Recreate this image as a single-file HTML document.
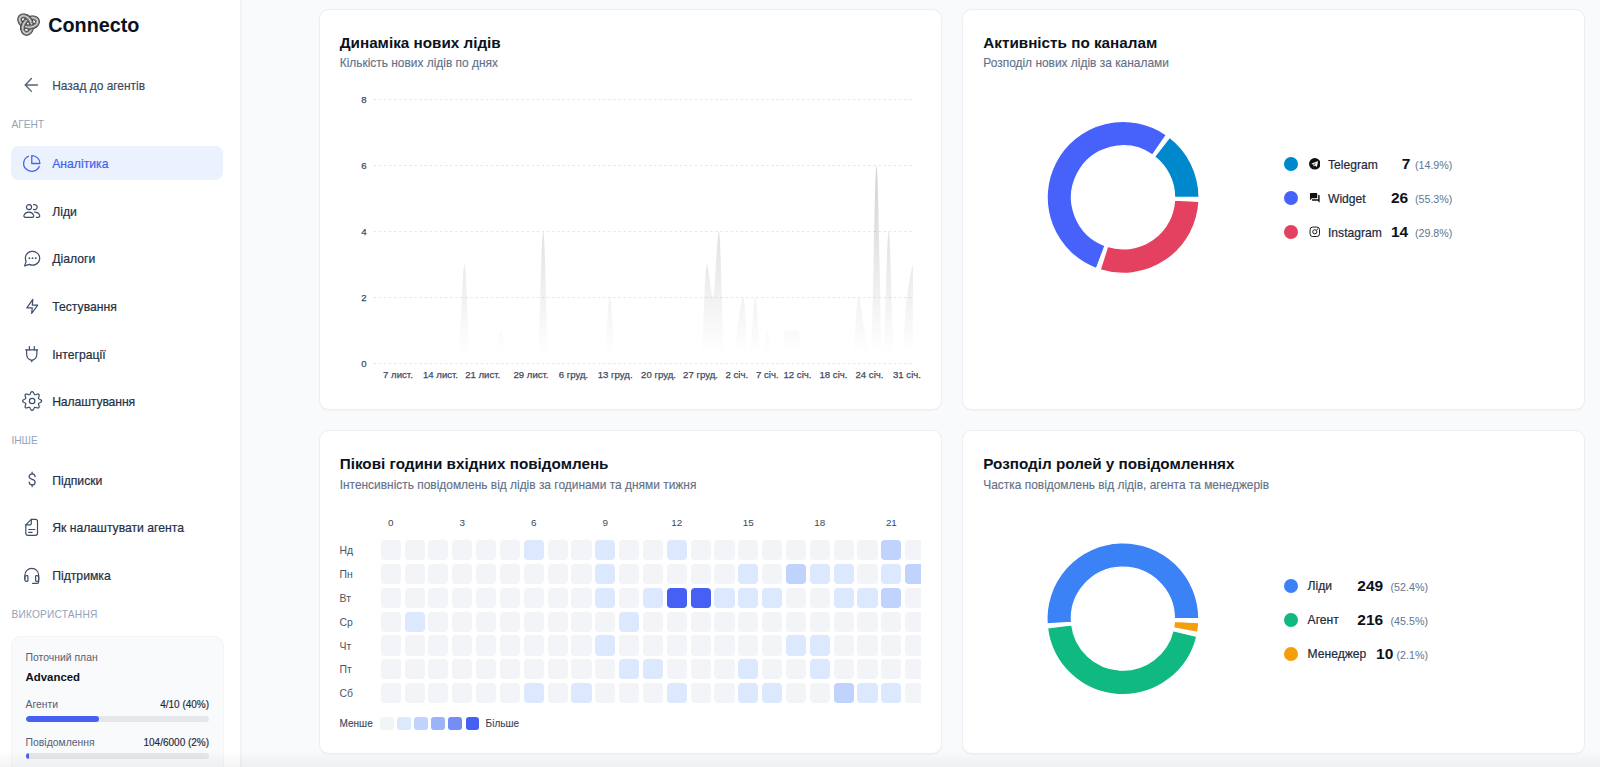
<!DOCTYPE html>
<html lang="uk">
<head>
<meta charset="utf-8">
<title>Connecto — Аналітика</title>
<style>
*{box-sizing:border-box;margin:0;padding:0}
html,body{width:1600px;height:767px;overflow:hidden}
body{position:relative;background:#f8fafc;font-family:"Liberation Sans",Arial,sans-serif;color:#1e293b;-webkit-font-smoothing:antialiased}
.abs{position:absolute;white-space:nowrap}
/* sidebar */
#sidebar{position:absolute;left:0;top:0;width:241px;height:767px;background:#fff;border-right:1px solid #f0f2f5;box-shadow:1px 0 0 #f3f5f8}
#brand{left:48.2px;top:13.5px;font-size:19.8px;font-weight:700;color:#0b1220;line-height:23px}
.sec{left:11.4px;font-size:10.2px;color:#94a3b8;line-height:12px;letter-spacing:0}
.nav{left:11px;width:212.3px;height:34.2px;border-radius:8px;font-size:12.2px;color:#243044;line-height:34.2px;padding-left:41.2px;-webkit-text-stroke:.2px currentColor}
.ic{fill:none;stroke-linecap:round;stroke-linejoin:round;overflow:visible}
.nav.active{background:#ebf2fe;border-radius:7.5px;color:#4461f2;line-height:36px}
#usage{left:11.1px;top:636.4px;width:212.5px;height:160px;background:#f8fafc;border:1px solid #f1f4f8;border-radius:10px}
.u-l{font-size:10.4px;color:#566075;line-height:12px}
.u-r{font-size:10px;color:#1e293b;line-height:12px;text-align:right;-webkit-text-stroke:.15px #1e293b}
.track{left:25.6px;width:183.5px;height:6px;border-radius:3px;background:#e5e7eb;overflow:hidden}
.track b{display:block;height:100%;background:#4461f2;border-radius:3px}
/* cards */
.card{position:absolute;background:#fff;border:1px solid #eceef3;border-radius:9.5px;box-shadow:0 1px 2px rgba(16,24,40,.03)}
.title{font-size:15.25px;font-weight:700;color:#0b1220;line-height:18px}
.sub{font-size:11.93px;color:#626f86;line-height:14px;-webkit-text-stroke:.12px #626f86}
svg.layer{position:absolute;left:0;top:0;width:1600px;height:767px;overflow:visible}
.ax text{font-size:9.6px;fill:#3f4b60;stroke:#3f4b60;stroke-width:.25px;font-family:"Liberation Sans",Arial,sans-serif}
.grid line{stroke:#e4e7eb;stroke-width:1;stroke-dasharray:2.6 2.5}
/* legend */
.dot{width:13.9px;height:13.9px;margin:-.15px 0 0 -.15px;border-radius:50%}
.lname{font-size:12.1px;color:#1e293b;line-height:14px;-webkit-text-stroke:.2px #1e293b;margin-top:.8px}
.lval{font-size:15.5px;font-weight:700;color:#0b1220;line-height:18px;text-align:right;margin-top:.6px}
.lpct{font-size:10.7px;color:#64748b;line-height:14px;text-align:right;margin-top:.3px}
/* heatmap */
#heat{left:380.7px;top:540.1px;width:540.3px;height:170px;overflow:hidden}
#heat i{position:absolute;width:20.1px;height:20.1px;border-radius:4px}
.hh{position:absolute;top:516.6px;width:30px;text-align:center;font-size:9.9px;color:#3b475c;line-height:12px}
.dd{position:absolute;margin-top:1.1px;left:339.6px;font-size:10.4px;color:#475569;line-height:20.1px}
.lg{position:absolute;top:717px;width:13.4px;height:13.4px;border-radius:3px}
.small{font-size:10px;color:#3b475c;line-height:12px;margin-top:.4px;-webkit-text-stroke:.12px #3b475c}
#fade{position:absolute;left:0;top:750px;width:1600px;height:17px;background:linear-gradient(to bottom,rgba(0,0,0,0),rgba(0,0,0,.045));pointer-events:none}
</style>
</head>
<body>

<aside id="sidebar">
  <svg class="abs" style="left:16.3px;top:11.6px;width:25.2px;height:25.2px" viewBox="0 0 24 24" fill="none" stroke-linejoin="round"><path d="M10.72 14.14L11.73 14.31L12.75 14.38L13.76 14.36L14.75 14.25L15.69 14.04L16.58 13.75L17.41 13.38L18.16 12.94L18.82 12.43L19.37 11.88L19.83 11.28L20.17 10.66L20.39 10.02L20.50 9.38L20.49 8.75L20.35 8.15L20.11 7.58L19.75 7.06L19.29 6.61L18.73 6.22L18.09 5.92L17.37 5.70L16.59 5.58L15.76 5.56L14.90 5.64L14.01 5.83L13.12 6.12L12.23 6.51L11.37 6.99L10.54 7.57L9.76 8.23L9.03 8.96L8.38 9.75L7.81 10.60L7.32 11.48L6.93 12.39L6.63 13.32L6.44 14.23L6.35 15.13L6.36 16.00L6.46 16.82L6.67 17.59L6.96 18.28L7.32 18.89L7.77 19.40L8.27 19.81L8.82 20.11L9.41 20.30L10.02 20.37L10.65 20.32L11.28 20.15L11.89 19.86L12.47 19.45L13.02 18.94L13.51 18.32L13.94 17.62L14.31 16.83L14.59 15.97L14.78 15.05L14.89 14.09L14.90 13.10L14.82 12.09L14.64 11.08L14.37 10.09L14.00 9.13L13.56 8.21L13.03 7.34L12.44 6.55L11.79 5.83L11.09 5.21L10.36 4.68L9.60 4.25L8.84 3.93L8.08 3.73L7.33 3.63L6.62 3.65L5.96 3.77L5.35 4.00L4.81 4.33L4.35 4.74L3.99 5.24L3.72 5.81L3.55 6.44L3.50 7.11L3.56 7.82L3.73 8.55L4.02 9.29L4.41 10.02L4.92 10.72L5.52 11.40L6.22 12.03L7.00 12.60L7.85 13.10L8.76 13.53L9.72 13.88Z" stroke="#333333" stroke-width="4.5"/><path d="M10.72 14.14L11.73 14.31L12.75 14.38L13.76 14.36L14.75 14.25L15.69 14.04L16.58 13.75L17.41 13.38L18.16 12.94L18.82 12.43L19.37 11.88L19.83 11.28L20.17 10.66L20.39 10.02L20.50 9.38L20.49 8.75L20.35 8.15L20.11 7.58L19.75 7.06L19.29 6.61L18.73 6.22L18.09 5.92L17.37 5.70L16.59 5.58L15.76 5.56L14.90 5.64L14.01 5.83L13.12 6.12L12.23 6.51L11.37 6.99L10.54 7.57L9.76 8.23L9.03 8.96L8.38 9.75L7.81 10.60L7.32 11.48L6.93 12.39L6.63 13.32L6.44 14.23L6.35 15.13L6.36 16.00L6.46 16.82L6.67 17.59L6.96 18.28L7.32 18.89L7.77 19.40L8.27 19.81L8.82 20.11L9.41 20.30L10.02 20.37L10.65 20.32L11.28 20.15L11.89 19.86L12.47 19.45L13.02 18.94L13.51 18.32L13.94 17.62L14.31 16.83L14.59 15.97L14.78 15.05L14.89 14.09L14.90 13.10L14.82 12.09L14.64 11.08L14.37 10.09L14.00 9.13L13.56 8.21L13.03 7.34L12.44 6.55L11.79 5.83L11.09 5.21L10.36 4.68L9.60 4.25L8.84 3.93L8.08 3.73L7.33 3.63L6.62 3.65L5.96 3.77L5.35 4.00L4.81 4.33L4.35 4.74L3.99 5.24L3.72 5.81L3.55 6.44L3.50 7.11L3.56 7.82L3.73 8.55L4.02 9.29L4.41 10.02L4.92 10.72L5.52 11.40L6.22 12.03L7.00 12.60L7.85 13.10L8.76 13.53L9.72 13.88Z" stroke="#808080" stroke-width="3.3"/><path d="M10.72 14.14L11.73 14.31L12.75 14.38L13.76 14.36L14.75 14.25L15.69 14.04L16.58 13.75L17.41 13.38L18.16 12.94L18.82 12.43L19.37 11.88L19.83 11.28L20.17 10.66L20.39 10.02L20.50 9.38L20.49 8.75L20.35 8.15L20.11 7.58L19.75 7.06L19.29 6.61L18.73 6.22L18.09 5.92L17.37 5.70L16.59 5.58L15.76 5.56L14.90 5.64L14.01 5.83L13.12 6.12L12.23 6.51L11.37 6.99L10.54 7.57L9.76 8.23L9.03 8.96L8.38 9.75L7.81 10.60L7.32 11.48L6.93 12.39L6.63 13.32L6.44 14.23L6.35 15.13L6.36 16.00L6.46 16.82L6.67 17.59L6.96 18.28L7.32 18.89L7.77 19.40L8.27 19.81L8.82 20.11L9.41 20.30L10.02 20.37L10.65 20.32L11.28 20.15L11.89 19.86L12.47 19.45L13.02 18.94L13.51 18.32L13.94 17.62L14.31 16.83L14.59 15.97L14.78 15.05L14.89 14.09L14.90 13.10L14.82 12.09L14.64 11.08L14.37 10.09L14.00 9.13L13.56 8.21L13.03 7.34L12.44 6.55L11.79 5.83L11.09 5.21L10.36 4.68L9.60 4.25L8.84 3.93L8.08 3.73L7.33 3.63L6.62 3.65L5.96 3.77L5.35 4.00L4.81 4.33L4.35 4.74L3.99 5.24L3.72 5.81L3.55 6.44L3.50 7.11L3.56 7.82L3.73 8.55L4.02 9.29L4.41 10.02L4.92 10.72L5.52 11.40L6.22 12.03L7.00 12.60L7.85 13.10L8.76 13.53L9.72 13.88Z" stroke="#d6d6d6" stroke-width="1.2"/><path d="M10.72 14.14L11.73 14.31L12.75 14.38L13.76 14.36L14.75 14.25L15.69 14.04L16.58 13.75L17.41 13.38L18.16 12.94L18.82 12.43" stroke="#333333" stroke-width="4.5" stroke-linecap="butt"/><path d="M10.72 14.14L11.73 14.31L12.75 14.38L13.76 14.36L14.75 14.25L15.69 14.04L16.58 13.75L17.41 13.38L18.16 12.94L18.82 12.43" stroke="#808080" stroke-width="3.3" stroke-linecap="butt"/><path d="M10.72 14.14L11.73 14.31L12.75 14.38L13.76 14.36L14.75 14.25L15.69 14.04L16.58 13.75L17.41 13.38L18.16 12.94L18.82 12.43" stroke="#d6d6d6" stroke-width="1.2" stroke-linecap="butt"/><path d="M9.03 8.96L8.38 9.75L7.81 10.60L7.32 11.48L6.93 12.39L6.63 13.32L6.44 14.23L6.35 15.13L6.36 16.00L6.46 16.82" stroke="#333333" stroke-width="4.5" stroke-linecap="butt"/><path d="M9.03 8.96L8.38 9.75L7.81 10.60L7.32 11.48L6.93 12.39L6.63 13.32L6.44 14.23L6.35 15.13L6.36 16.00L6.46 16.82" stroke="#808080" stroke-width="3.3" stroke-linecap="butt"/><path d="M9.03 8.96L8.38 9.75L7.81 10.60L7.32 11.48L6.93 12.39L6.63 13.32L6.44 14.23L6.35 15.13L6.36 16.00L6.46 16.82" stroke="#d6d6d6" stroke-width="1.2" stroke-linecap="butt"/><path d="M14.37 10.09L14.00 9.13L13.56 8.21L13.03 7.34L12.44 6.55L11.79 5.83L11.09 5.21L10.36 4.68L9.60 4.25L8.84 3.93" stroke="#333333" stroke-width="4.5" stroke-linecap="butt"/><path d="M14.37 10.09L14.00 9.13L13.56 8.21L13.03 7.34L12.44 6.55L11.79 5.83L11.09 5.21L10.36 4.68L9.60 4.25L8.84 3.93" stroke="#808080" stroke-width="3.3" stroke-linecap="butt"/><path d="M14.37 10.09L14.00 9.13L13.56 8.21L13.03 7.34L12.44 6.55L11.79 5.83L11.09 5.21L10.36 4.68L9.60 4.25L8.84 3.93" stroke="#d6d6d6" stroke-width="1.2" stroke-linecap="butt"/></svg>
  <div id="brand" class="abs">Connecto</div>

  <svg class="abs ic" style="left:21.18px;top:74.03px;width:20.74px;height:21.94px;stroke:#56627a;stroke-width:1.40px" viewBox="0 0 24 24" preserveAspectRatio="none"><path vector-effect="non-scaling-stroke" d="m12 19-7-7 7-7"/><path vector-effect="non-scaling-stroke" d="M19 12H5"/></svg>
  <div class="abs" style="left:52.2px;top:79px;font-size:11.95px;line-height:14px;color:#3a475b;-webkit-text-stroke:.15px #3a475b">Назад до агентів</div>

  <div class="abs sec" style="top:118.9px">АГЕНТ</div>

  <div class="abs nav active" style="top:146px;height:34.4px">Аналітика</div>
  <div class="abs nav" style="top:194.7px">Ліди</div>
  <div class="abs nav" style="top:242.3px">Діалоги</div>
  <div class="abs nav" style="top:290.0px">Тестування</div>
  <div class="abs nav" style="top:337.6px">Інтеграції</div>
  <div class="abs nav" style="top:385.3px;letter-spacing:-.12px">Налаштування</div>

  <div class="abs sec" style="top:435.1px">ІНШЕ</div>

  <div class="abs nav" style="top:463.9px">Підписки</div>
  <div class="abs nav" style="top:511.2px">Як налаштувати агента</div>
  <div class="abs nav" style="top:558.7px">Підтримка</div>

  <div class="abs sec" style="top:608.8px;letter-spacing:.2px">ВИКОРИСТАННЯ</div>

  <svg class="abs ic" style="left:21.82px;top:153.87px;width:19.56px;height:18.96px;stroke:#4461f2;stroke-width:1.30px" viewBox="0 0 24 24" preserveAspectRatio="none"><path vector-effect="non-scaling-stroke" d="M21.21 15.89A10 10 0 1 1 8 2.83"/><path vector-effect="non-scaling-stroke" d="M22 12A10 10 0 0 0 12 2v10z"/></svg><svg class="abs ic" style="left:23.01px;top:204.11px;width:24.04px;height:23.72px;stroke:#3f4d6b;stroke-width:1.20px" viewBox="0 0 24 24" preserveAspectRatio="none"><circle vector-effect="non-scaling-stroke" cx="6" cy="3.150" r="2.550"/><path vector-effect="non-scaling-stroke" d="M10.520 .84A2.550 2.550 0 1 1 10.520 5.460"/><path vector-effect="non-scaling-stroke" d="M2.600 13.450h6.400c1.400 0 2.100-1 1.600-2.200C9.800 9.400 8.100 8.150 5.800 8.150S1.800 9.400 1 11.250c-.5 1.200.2 2.200 1.600 2.200z"/><path vector-effect="non-scaling-stroke" d="M11.600 8.200c2.400 0 4.300 1.300 5 3.100.5 1.200-.2 2.150-1.500 2.150h-1.800"/></svg><svg class="abs ic" style="left:22.61px;top:249.20px;width:19.07px;height:18.43px;stroke:#3f4d6b;stroke-width:1.20px" viewBox="0 0 24 24" preserveAspectRatio="none"><path vector-effect="non-scaling-stroke" d="M7.900 20A9 9 0 1 0 4 16.100L2 22Z"/><circle vector-effect="non-scaling-stroke" cx="8" cy="12" r="1.15" fill="#3f4d6b" stroke="none"/><circle vector-effect="non-scaling-stroke" cx="12" cy="12" r="1.15" fill="#3f4d6b" stroke="none"/><circle vector-effect="non-scaling-stroke" cx="16" cy="12" r="1.15" fill="#3f4d6b" stroke="none"/></svg><svg class="abs ic" style="left:24.58px;top:298.39px;width:14.53px;height:16.92px;stroke:#3f4d6b;stroke-width:1.20px" viewBox="0 0 24 24" preserveAspectRatio="none"><path vector-effect="non-scaling-stroke" d="M13 2 3 14h9l-1 8 10-12h-9z"/></svg><svg class="abs ic" style="left:25.00px;top:345.52px;width:24.00px;height:23.24px;stroke:#3f4d6b;stroke-width:1.20px" viewBox="0 0 24 24" preserveAspectRatio="none"><path vector-effect="non-scaling-stroke" d="M.6 3.900H12.600"/><path vector-effect="non-scaling-stroke" d="M4.400 .5V3.900"/><path vector-effect="non-scaling-stroke" d="M9.300 .5V3.900"/><path vector-effect="non-scaling-stroke" d="M1.650 3.900V8.500c0 3.200 2.300 5.800 5.100 6.300 2.800-.5 5.100-3.100 5.100-6.300V3.900"/><path vector-effect="non-scaling-stroke" d="M6.750 14.800V16.300"/></svg><svg class="abs ic" style="left:19.77px;top:389.30px;width:24.26px;height:24.00px;stroke:#3f4d6b;stroke-width:1.20px" viewBox="0 0 24 24" preserveAspectRatio="none"><path vector-effect="non-scaling-stroke" d="M21.40 12.00L21.33 12.37L21.12 12.72L20.80 13.04L20.40 13.33L19.94 13.58L19.49 13.80L19.06 13.99L18.70 14.18L18.44 14.38L18.28 14.60L18.23 14.87L18.28 15.20L18.40 15.58L18.56 16.02L18.73 16.50L18.88 17.00L18.96 17.49L18.96 17.94L18.86 18.34L18.65 18.65L18.34 18.86L17.94 18.96L17.49 18.96L17.00 18.88L16.50 18.73L16.02 18.56L15.58 18.40L15.20 18.28L14.87 18.23L14.60 18.28L14.38 18.44L14.18 18.70L13.99 19.06L13.80 19.49L13.58 19.94L13.33 20.40L13.04 20.80L12.72 21.12L12.37 21.33L12.00 21.40L11.63 21.33L11.28 21.12L10.96 20.80L10.67 20.40L10.42 19.94L10.20 19.49L10.01 19.06L9.82 18.70L9.62 18.44L9.40 18.28L9.13 18.23L8.80 18.28L8.42 18.40L7.98 18.56L7.50 18.73L7.00 18.88L6.51 18.96L6.06 18.96L5.66 18.86L5.35 18.65L5.14 18.34L5.04 17.94L5.04 17.49L5.12 17.00L5.27 16.50L5.44 16.02L5.60 15.58L5.72 15.20L5.77 14.87L5.72 14.60L5.56 14.38L5.30 14.18L4.94 13.99L4.51 13.80L4.06 13.58L3.60 13.33L3.20 13.04L2.88 12.72L2.67 12.37L2.60 12.00L2.67 11.63L2.88 11.28L3.20 10.96L3.60 10.67L4.06 10.42L4.51 10.20L4.94 10.01L5.30 9.82L5.56 9.62L5.72 9.40L5.77 9.13L5.72 8.80L5.60 8.42L5.44 7.98L5.27 7.50L5.12 7.00L5.04 6.51L5.04 6.06L5.14 5.66L5.35 5.35L5.66 5.14L6.06 5.04L6.51 5.04L7.00 5.12L7.50 5.27L7.98 5.44L8.42 5.60L8.80 5.72L9.13 5.77L9.40 5.72L9.62 5.56L9.82 5.30L10.01 4.94L10.20 4.51L10.42 4.06L10.67 3.60L10.96 3.20L11.28 2.88L11.63 2.67L12.00 2.60L12.37 2.67L12.72 2.88L13.04 3.20L13.33 3.60L13.58 4.06L13.80 4.51L13.99 4.94L14.18 5.30L14.38 5.56L14.60 5.72L14.87 5.77L15.20 5.72L15.58 5.60L16.02 5.44L16.50 5.27L17.00 5.12L17.49 5.04L17.94 5.04L18.34 5.14L18.65 5.35L18.86 5.66L18.96 6.06L18.96 6.51L18.88 7.00L18.73 7.50L18.56 7.98L18.40 8.42L18.28 8.80L18.23 9.13L18.28 9.40L18.44 9.62L18.70 9.82L19.06 10.01L19.49 10.20L19.94 10.42L20.40 10.67L20.80 10.96L21.12 11.28L21.33 11.63Z"/><circle vector-effect="non-scaling-stroke" cx="12" cy="12" r="2.700"/></svg><svg class="abs ic" style="left:24.70px;top:471.46px;width:14.26px;height:16.69px;stroke:#3f4d6b;stroke-width:1.20px" viewBox="0 0 24 24" preserveAspectRatio="none"><path vector-effect="non-scaling-stroke" d="M12 1.500v2.500"/><path vector-effect="non-scaling-stroke" d="M12 20v2.500"/><path vector-effect="non-scaling-stroke" d="M17 8C16.600 5.600 14.700 4 12 4 9 4 7 5.700 7 8c0 2.500 2.200 3.400 5 4s5 1.500 5 4c0 2.300-2 4-5 4-2.800 0-4.700-1.600-5.100-4"/></svg><svg class="abs ic" style="left:25.00px;top:518.00px;width:24.00px;height:24.00px;stroke:#3f4d6b;stroke-width:1.20px" viewBox="0 0 24 24" preserveAspectRatio="none"><path vector-effect="non-scaling-stroke" d="M6.300 1.400H10.500a2 2 0 0 1 2 2V15.300a2 2 0 0 1-2 2H2.800a2 2 0 0 1-2-2V6.900Z"/><path vector-effect="non-scaling-stroke" d="M6.300 1.400V5.400a1.500 1.500 0 0 1-1.500 1.500H.8"/><path vector-effect="non-scaling-stroke" d="M3.750 11.500H9.800"/><path vector-effect="non-scaling-stroke" d="M3.750 14.300H7.100"/></svg><svg class="abs ic" style="left:21.80px;top:565.98px;width:19.55px;height:19.33px;stroke:#3f4d6b;stroke-width:1.20px" viewBox="0 0 24 24" preserveAspectRatio="none"><path vector-effect="non-scaling-stroke" d="M3.500 16v-4.500a8.500 8.500 0 0 1 17 0V16"/><path vector-effect="non-scaling-stroke" d="M3.500 14a2 2 0 0 1 2-2h.8a1 1 0 0 1 1 1v5a1 1 0 0 1-1 1h-.8a2 2 0 0 1-2-2z"/><path vector-effect="non-scaling-stroke" d="M20.500 14a2 2 0 0 0-2-2h-.8a1 1 0 0 0-1 1v5a1 1 0 0 0 1 1h.8a2 2 0 0 0 2-2z"/><path vector-effect="non-scaling-stroke" d="M20.500 17v2.500a2 2 0 0 1-2 2H13"/></svg>
  <div id="usage" class="abs"></div>
  <div class="abs u-l" style="left:25.6px;top:651.6px">Поточний план</div>
  <div class="abs" style="left:25.6px;top:669.5px;font-size:11.4px;font-weight:700;color:#0b1220;line-height:14px">Advanced</div>
  <div class="abs u-l" style="left:25.6px;top:699.3px">Агенти</div>
  <div class="abs u-r" style="left:109px;width:100.1px;top:699.3px">4/10 (40%)</div>
  <div class="abs track" style="top:715.8px"><b style="width:40%"></b></div>
  <div class="abs u-l" style="left:25.6px;top:737.3px">Повідомлення</div>
  <div class="abs u-r" style="left:109px;width:100.1px;top:737.3px">104/6000 (2%)</div>
  <div class="abs track" style="top:753.3px"><b style="width:1.9%"></b></div>
</aside>

<main>
  <section class="card" style="left:319px;top:9px;width:623px;height:401px"></section>
  <section class="card" style="left:962px;top:9px;width:623px;height:401px"></section>
  <section class="card" style="left:319px;top:430px;width:623px;height:324px"></section>
  <section class="card" style="left:962px;top:430px;width:623px;height:324px"></section>

  <h2 class="abs title" style="left:339.7px;top:33.6px">Динаміка нових лідів</h2>
  <p class="abs sub" style="left:339.7px;top:56.2px">Кількість нових лідів по днях</p>

  <h2 class="abs title" style="left:983.3px;top:33.6px">Активність по каналам</h2>
  <p class="abs sub" style="left:983.3px;top:56.2px">Розподіл нових лідів за каналами</p>

  <h2 class="abs title" style="left:339.7px;top:455.4px">Пікові години вхідних повідомлень</h2>
  <p class="abs sub" style="left:339.7px;top:477.6px">Інтенсивність повідомлень від лідів за годинами та днями тижня</p>

  <h2 class="abs title" style="left:983.3px;top:455.4px">Розподіл ролей у повідомленнях</h2>
  <p class="abs sub" style="left:983.3px;top:477.6px">Частка повідомлень від лідів, агента та менеджерів</p>

  <svg class="layer" viewBox="0 0 1600 767">
    <defs>
      <linearGradient id="ag" x1="0" y1="0" x2="0" y2="1">
        <stop offset="5%" stop-color="#000" stop-opacity=".17"/>
        <stop offset="95%" stop-color="#000" stop-opacity="0"/>
      </linearGradient>
    </defs>
    <g class="grid"><line x1="373.5" x2="912.9" y1="363.60" y2="363.60"/><line x1="373.5" x2="912.9" y1="297.60" y2="297.60"/><line x1="373.5" x2="912.9" y1="231.60" y2="231.60"/><line x1="373.5" x2="912.9" y1="165.60" y2="165.60"/><line x1="373.5" x2="912.9" y1="99.60" y2="99.60"/></g>
    <path d="M373.50,363.60C375.52,363.60,377.54,363.60,379.56,363.60C381.58,363.60,383.60,363.60,385.62,363.60C387.64,363.60,389.66,363.60,391.68,363.60C393.70,363.60,395.72,363.60,397.74,363.60C399.76,363.60,401.78,363.60,403.80,363.60C405.82,363.60,407.84,363.60,409.86,363.60C411.88,363.60,413.90,363.60,415.92,363.60C417.94,363.60,419.97,363.60,421.99,363.60C424.01,363.60,426.03,363.60,428.05,363.60C430.07,363.60,432.09,363.60,434.11,363.60C436.13,363.60,438.15,363.60,440.17,363.60C442.19,363.60,444.21,363.60,446.23,363.60C448.25,363.60,450.27,363.60,452.29,363.60C454.31,363.60,456.33,363.60,458.35,363.60C460.37,363.60,462.39,264.60,464.41,264.60C466.43,264.60,468.45,363.60,470.47,363.60C472.49,363.60,474.51,363.60,476.53,363.60C478.55,363.60,480.57,363.60,482.59,363.60C484.61,363.60,486.63,363.60,488.65,363.60C490.67,363.60,492.69,363.60,494.71,363.60C496.73,363.60,498.75,330.60,500.77,330.60C502.79,330.60,504.81,363.60,506.83,363.60C508.86,363.60,510.88,363.60,512.90,363.60C514.92,363.60,516.94,363.60,518.96,363.60C520.98,363.60,523.00,363.60,525.02,363.60C527.04,363.60,529.06,363.60,531.08,363.60C533.10,363.60,535.12,363.60,537.14,363.60C539.16,363.60,541.18,231.60,543.20,231.60C545.22,231.60,547.24,363.60,549.26,363.60C551.28,363.60,553.30,363.60,555.32,363.60C557.34,363.60,559.36,363.60,561.38,363.60C563.40,363.60,565.42,363.60,567.44,363.60C569.46,363.60,571.48,363.60,573.50,363.60C575.52,363.60,577.54,363.60,579.56,363.60C581.58,363.60,583.60,363.60,585.62,363.60C587.64,363.60,589.66,363.60,591.68,363.60C593.70,363.60,595.72,363.60,597.74,363.60C599.77,363.60,601.79,363.60,603.81,363.60C605.83,363.60,607.85,297.60,609.87,297.60C611.89,297.60,613.91,363.60,615.93,363.60C617.95,363.60,619.97,363.60,621.99,363.60C624.01,363.60,626.03,363.60,628.05,363.60C630.07,363.60,632.09,363.60,634.11,363.60C636.13,363.60,638.15,363.60,640.17,363.60C642.19,363.60,644.21,363.60,646.23,363.60C648.25,363.60,650.27,363.60,652.29,363.60C654.31,363.60,656.33,363.60,658.35,363.60C660.37,363.60,662.39,363.60,664.41,363.60C666.43,363.60,668.45,363.60,670.47,363.60C672.49,363.60,674.51,363.60,676.53,363.60C678.55,363.60,680.57,363.60,682.59,363.60C684.61,363.60,686.63,363.60,688.66,363.60C690.68,363.60,692.70,363.60,694.72,363.60C696.74,363.60,698.76,363.60,700.78,363.60C702.80,363.60,704.82,264.60,706.84,264.60C708.86,264.60,710.88,297.60,712.90,297.60C714.92,297.60,716.94,231.60,718.96,231.60C720.98,231.60,723.00,363.60,725.02,363.60C727.04,363.60,729.06,363.60,731.08,363.60C733.10,363.60,735.12,341.60,737.14,330.60C739.16,319.60,741.18,297.60,743.20,297.60C745.22,297.60,747.24,363.60,749.26,363.60C751.28,363.60,753.30,297.60,755.32,297.60C757.34,297.60,759.36,363.60,761.38,363.60C763.40,363.60,765.42,330.60,767.44,330.60C769.46,330.60,771.48,363.60,773.50,363.60C775.52,363.60,777.54,363.60,779.57,363.60C781.59,363.60,783.61,330.60,785.63,330.60C787.65,330.60,789.67,330.60,791.69,330.60C793.71,330.60,795.73,330.60,797.75,330.60C799.77,330.60,801.79,363.60,803.81,363.60C805.83,363.60,807.85,363.60,809.87,363.60C811.89,363.60,813.91,363.60,815.93,363.60C817.95,363.60,819.97,363.60,821.99,363.60C824.01,363.60,826.03,363.60,828.05,363.60C830.07,363.60,832.09,363.60,834.11,363.60C836.13,363.60,838.15,363.60,840.17,363.60C842.19,363.60,844.21,363.60,846.23,363.60C848.25,363.60,850.27,363.60,852.29,363.60C854.31,363.60,856.33,297.60,858.35,297.60C860.37,297.60,862.39,319.60,864.41,330.60C866.43,341.60,868.46,363.60,870.48,363.60C872.50,363.60,874.52,165.60,876.54,165.60C878.56,165.60,880.58,363.60,882.60,363.60C884.62,363.60,886.64,231.60,888.66,231.60C890.68,231.60,892.70,363.60,894.72,363.60C896.74,363.60,898.76,363.60,900.78,363.60C902.80,363.60,904.82,314.10,906.84,297.60C908.86,281.10,910.88,272.85,912.90,264.60L912.90,363.60L373.50,363.60Z" fill="url(#ag)"/>
    <g class="ax"><text x="364" y="366.9" text-anchor="middle">0</text><text x="364" y="300.9" text-anchor="middle">2</text><text x="364" y="234.9" text-anchor="middle">4</text><text x="364" y="168.9" text-anchor="middle">6</text><text x="364" y="102.9" text-anchor="middle">8</text><text x="398.0" y="377.9" text-anchor="middle">7 лист.</text><text x="440.5" y="377.9" text-anchor="middle">14 лист.</text><text x="482.7" y="377.9" text-anchor="middle">21 лист.</text><text x="531.0" y="377.9" text-anchor="middle">29 лист.</text><text x="573.5" y="377.9" text-anchor="middle">6 груд.</text><text x="615.2" y="377.9" text-anchor="middle">13 груд.</text><text x="658.5" y="377.9" text-anchor="middle">20 груд.</text><text x="700.5" y="377.9" text-anchor="middle">27 груд.</text><text x="736.8" y="377.9" text-anchor="middle">2 січ.</text><text x="767.3" y="377.9" text-anchor="middle">7 січ.</text><text x="797.5" y="377.9" text-anchor="middle">12 січ.</text><text x="833.5" y="377.9" text-anchor="middle">18 січ.</text><text x="869.5" y="377.9" text-anchor="middle">24 січ.</text><text x="907.0" y="377.9" text-anchor="middle">31 січ.</text></g>
    <g><path d="M1199.10,197.40A76.00,76.00,0,0,0,1169.60,137.29L1154.61,156.66A51.50,51.50,0,0,1,1174.60,197.40Z" fill="#0088cc" stroke="#fff" stroke-width="1.3"/>
<path d="M1166.39,134.93A76.00,76.00,0,1,0,1096.42,268.56L1105.02,245.62A51.50,51.50,0,1,1,1152.44,155.07Z" fill="#4761fb" stroke="#fff" stroke-width="1.3"/>
<path d="M1100.18,269.86A76.00,76.00,0,0,0,1199.00,201.38L1174.53,200.10A51.50,51.50,0,0,1,1107.57,246.50Z" fill="#e4405f" stroke="#fff" stroke-width="1.3"/></g>
    <g><path d="M1198.90,618.70A76.00,76.00,0,1,0,1047.08,624.00L1071.53,622.29A51.50,51.50,0,1,1,1174.40,618.70Z" fill="#3b82f6" stroke="#fff" stroke-width="1.3"/>
<path d="M1047.47,627.96A76.00,76.00,0,0,0,1196.83,636.30L1173.00,630.63A51.50,51.50,0,0,1,1071.78,624.97Z" fill="#10b981" stroke="#fff" stroke-width="1.3"/>
<path d="M1197.65,632.41A76.00,76.00,0,0,0,1198.80,622.68L1174.33,621.40A51.50,51.50,0,0,1,1173.56,627.99Z" fill="#f59e0b" stroke="#fff" stroke-width="1.3"/></g>
  </svg>

  <!-- legend 1 -->
  <div class="abs dot" style="left:1283.9px;top:157px;background:#0088cc"></div>
  <div class="abs dot" style="left:1283.9px;top:191.1px;background:#4761fb"></div>
  <div class="abs dot" style="left:1283.9px;top:225.1px;background:#e4405f"></div>

  <svg class="abs" style="left:1308.7px;top:158px;width:11.6px;height:11.6px" viewBox="0 0 24 24"><circle cx="12" cy="12" r="12" fill="#111"/><path d="M17.600 6.800 5.700 11.400c-.5.2-.5.700 0 .9l3 1 1.200 3.700c.1.400.6.500.9.200l1.700-1.600 3.100 2.300c.4.300.9.100 1-.4l2-10c.1-.5-.4-.9-1-.7zM9.600 13 15.500 9.300l-4.500 4.500-.3 2.200z" fill="#fff"/></svg>
  <svg class="abs" style="left:1308.7px;top:192.1px;width:11.6px;height:11.6px" viewBox="0 0 24 24"><path d="M21 6h-2v9H6v2c0 .55.45 1 1 1h11l4 4V7c0-.55-.45-1-1-1zm-4 6V3c0-.55-.45-1-1-1H3c-.55 0-1 .45-1 1v14l4-4h10c.55 0 1-.45 1-1z" fill="#111"/></svg>
  <svg class="abs" style="left:1308.7px;top:226.100px;width:11.6px;height:11.6px" viewBox="0 0 24 24" fill="none" stroke="#111" stroke-width="2"><rect x="2.200" y="2.200" width="19.600" height="19.600" rx="5.500"/><circle cx="12" cy="12" r="4.300"/><circle cx="17.300" cy="6.700" r="1.300" fill="#111" stroke="none"/></svg>

  <div class="abs lname" style="left:1328px;top:156.800px">Telegram</div>
  <div class="abs lname" style="left:1328px;top:190.900px">Widget</div>
  <div class="abs lname" style="left:1328px;top:224.900px">Instagram</div>

  <div class="abs lval" style="left:1360px;width:50.400px;top:154.600px">7</div>
  <div class="abs lval" style="left:1360px;width:48.200px;top:188.700px">26</div>
  <div class="abs lval" style="left:1360px;width:48.200px;top:222.700px">14</div>

  <div class="abs lpct" style="left:1400px;width:52.400px;top:158px">(14.9%)</div>
  <div class="abs lpct" style="left:1400px;width:52.400px;top:192.100px">(55.3%)</div>
  <div class="abs lpct" style="left:1400px;width:52.400px;top:226.100px">(29.8%)</div>

  <!-- legend 2 -->
  <div class="abs dot" style="left:1283.9px;top:579.1px;background:#3b82f6"></div>
  <div class="abs dot" style="left:1283.9px;top:612.8px;background:#10b981"></div>
  <div class="abs dot" style="left:1283.9px;top:647px;background:#f59e0b"></div>

  <div class="abs lname" style="left:1307.6px;top:578.4px">Ліди</div>
  <div class="abs lname" style="left:1307.6px;top:612.200px">Агент</div>
  <div class="abs lname" style="left:1307.6px;top:646.500px">Менеджер</div>

  <div class="abs lval" style="left:1340px;width:43.200px;top:576.200px">249</div>
  <div class="abs lval" style="left:1340px;width:43.200px;top:610px">216</div>
  <div class="abs lval" style="left:1340px;width:53.300px;top:644.300px">10</div>

  <div class="abs lpct" style="left:1380px;width:48px;top:579.600px">(52.4%)</div>
  <div class="abs lpct" style="left:1380px;width:48px;top:613.400px">(45.5%)</div>
  <div class="abs lpct" style="left:1380px;width:48px;top:647.700px">(2.1%)</div>

  <!-- heatmap -->
  <span class="hh" style="left:375.75px">0</span><span class="hh" style="left:447.27px">3</span><span class="hh" style="left:518.79px">6</span><span class="hh" style="left:590.31px">9</span><span class="hh" style="left:661.83px">12</span><span class="hh" style="left:733.35px">15</span><span class="hh" style="left:804.87px">18</span><span class="hh" style="left:876.39px">21</span>
  <span class="dd" style="top:540.10px">Нд</span><span class="dd" style="top:563.94px">Пн</span><span class="dd" style="top:587.78px">Вт</span><span class="dd" style="top:611.62px">Ср</span><span class="dd" style="top:635.46px">Чт</span><span class="dd" style="top:659.30px">Пт</span><span class="dd" style="top:683.14px">Сб</span>
  <div id="heat" class="abs"><i style="left:0.00px;top:0.00px;background:#f3f4f7"></i><i style="left:23.84px;top:0.00px;background:#f3f4f7"></i><i style="left:47.68px;top:0.00px;background:#f3f4f7"></i><i style="left:71.52px;top:0.00px;background:#f3f4f7"></i><i style="left:95.36px;top:0.00px;background:#f3f4f7"></i><i style="left:119.20px;top:0.00px;background:#f3f4f7"></i><i style="left:143.04px;top:0.00px;background:#dce8fd"></i><i style="left:166.88px;top:0.00px;background:#f3f4f7"></i><i style="left:190.72px;top:0.00px;background:#f3f4f7"></i><i style="left:214.56px;top:0.00px;background:#dce8fd"></i><i style="left:238.40px;top:0.00px;background:#f3f4f7"></i><i style="left:262.24px;top:0.00px;background:#f3f4f7"></i><i style="left:286.08px;top:0.00px;background:#dce8fd"></i><i style="left:309.92px;top:0.00px;background:#f3f4f7"></i><i style="left:333.76px;top:0.00px;background:#f3f4f7"></i><i style="left:357.60px;top:0.00px;background:#f3f4f7"></i><i style="left:381.44px;top:0.00px;background:#f3f4f7"></i><i style="left:405.28px;top:0.00px;background:#f3f4f7"></i><i style="left:429.12px;top:0.00px;background:#f3f4f7"></i><i style="left:452.96px;top:0.00px;background:#f3f4f7"></i><i style="left:476.80px;top:0.00px;background:#f3f4f7"></i><i style="left:500.64px;top:0.00px;background:#c0d3fc"></i><i style="left:524.48px;top:0.00px;background:#f3f4f7"></i><i style="left:548.32px;top:0.00px;background:#f3f4f7"></i><i style="left:0.00px;top:23.84px;background:#f3f4f7"></i><i style="left:23.84px;top:23.84px;background:#f3f4f7"></i><i style="left:47.68px;top:23.84px;background:#f3f4f7"></i><i style="left:71.52px;top:23.84px;background:#f3f4f7"></i><i style="left:95.36px;top:23.84px;background:#f3f4f7"></i><i style="left:119.20px;top:23.84px;background:#f3f4f7"></i><i style="left:143.04px;top:23.84px;background:#f3f4f7"></i><i style="left:166.88px;top:23.84px;background:#f3f4f7"></i><i style="left:190.72px;top:23.84px;background:#f3f4f7"></i><i style="left:214.56px;top:23.84px;background:#dce8fd"></i><i style="left:238.40px;top:23.84px;background:#f3f4f7"></i><i style="left:262.24px;top:23.84px;background:#f3f4f7"></i><i style="left:286.08px;top:23.84px;background:#f3f4f7"></i><i style="left:309.92px;top:23.84px;background:#f3f4f7"></i><i style="left:333.76px;top:23.84px;background:#f3f4f7"></i><i style="left:357.60px;top:23.84px;background:#dce8fd"></i><i style="left:381.44px;top:23.84px;background:#f3f4f7"></i><i style="left:405.28px;top:23.84px;background:#c0d3fc"></i><i style="left:429.12px;top:23.84px;background:#dce8fd"></i><i style="left:452.96px;top:23.84px;background:#dce8fd"></i><i style="left:476.80px;top:23.84px;background:#f3f4f7"></i><i style="left:500.64px;top:23.84px;background:#dce8fd"></i><i style="left:524.48px;top:23.84px;background:#c0d3fc"></i><i style="left:548.32px;top:23.84px;background:#f3f4f7"></i><i style="left:0.00px;top:47.68px;background:#f3f4f7"></i><i style="left:23.84px;top:47.68px;background:#f3f4f7"></i><i style="left:47.68px;top:47.68px;background:#f3f4f7"></i><i style="left:71.52px;top:47.68px;background:#f3f4f7"></i><i style="left:95.36px;top:47.68px;background:#f3f4f7"></i><i style="left:119.20px;top:47.68px;background:#f3f4f7"></i><i style="left:143.04px;top:47.68px;background:#f3f4f7"></i><i style="left:166.88px;top:47.68px;background:#f3f4f7"></i><i style="left:190.72px;top:47.68px;background:#f3f4f7"></i><i style="left:214.56px;top:47.68px;background:#dce8fd"></i><i style="left:238.40px;top:47.68px;background:#f3f4f7"></i><i style="left:262.24px;top:47.68px;background:#dce8fd"></i><i style="left:286.08px;top:47.68px;background:#4560f2"></i><i style="left:309.92px;top:47.68px;background:#4560f2"></i><i style="left:333.76px;top:47.68px;background:#dce8fd"></i><i style="left:357.60px;top:47.68px;background:#dce8fd"></i><i style="left:381.44px;top:47.68px;background:#dce8fd"></i><i style="left:405.28px;top:47.68px;background:#f3f4f7"></i><i style="left:429.12px;top:47.68px;background:#f3f4f7"></i><i style="left:452.96px;top:47.68px;background:#dce8fd"></i><i style="left:476.80px;top:47.68px;background:#dce8fd"></i><i style="left:500.64px;top:47.68px;background:#c0d3fc"></i><i style="left:524.48px;top:47.68px;background:#f3f4f7"></i><i style="left:548.32px;top:47.68px;background:#f3f4f7"></i><i style="left:0.00px;top:71.52px;background:#f3f4f7"></i><i style="left:23.84px;top:71.52px;background:#dce8fd"></i><i style="left:47.68px;top:71.52px;background:#f3f4f7"></i><i style="left:71.52px;top:71.52px;background:#f3f4f7"></i><i style="left:95.36px;top:71.52px;background:#f3f4f7"></i><i style="left:119.20px;top:71.52px;background:#f3f4f7"></i><i style="left:143.04px;top:71.52px;background:#f3f4f7"></i><i style="left:166.88px;top:71.52px;background:#f3f4f7"></i><i style="left:190.72px;top:71.52px;background:#f3f4f7"></i><i style="left:214.56px;top:71.52px;background:#f3f4f7"></i><i style="left:238.40px;top:71.52px;background:#dce8fd"></i><i style="left:262.24px;top:71.52px;background:#f3f4f7"></i><i style="left:286.08px;top:71.52px;background:#f3f4f7"></i><i style="left:309.92px;top:71.52px;background:#f3f4f7"></i><i style="left:333.76px;top:71.52px;background:#f3f4f7"></i><i style="left:357.60px;top:71.52px;background:#f3f4f7"></i><i style="left:381.44px;top:71.52px;background:#f3f4f7"></i><i style="left:405.28px;top:71.52px;background:#f3f4f7"></i><i style="left:429.12px;top:71.52px;background:#f3f4f7"></i><i style="left:452.96px;top:71.52px;background:#f3f4f7"></i><i style="left:476.80px;top:71.52px;background:#f3f4f7"></i><i style="left:500.64px;top:71.52px;background:#f3f4f7"></i><i style="left:524.48px;top:71.52px;background:#f3f4f7"></i><i style="left:548.32px;top:71.52px;background:#f3f4f7"></i><i style="left:0.00px;top:95.36px;background:#f3f4f7"></i><i style="left:23.84px;top:95.36px;background:#f3f4f7"></i><i style="left:47.68px;top:95.36px;background:#f3f4f7"></i><i style="left:71.52px;top:95.36px;background:#f3f4f7"></i><i style="left:95.36px;top:95.36px;background:#f3f4f7"></i><i style="left:119.20px;top:95.36px;background:#f3f4f7"></i><i style="left:143.04px;top:95.36px;background:#f3f4f7"></i><i style="left:166.88px;top:95.36px;background:#f3f4f7"></i><i style="left:190.72px;top:95.36px;background:#f3f4f7"></i><i style="left:214.56px;top:95.36px;background:#dce8fd"></i><i style="left:238.40px;top:95.36px;background:#f3f4f7"></i><i style="left:262.24px;top:95.36px;background:#f3f4f7"></i><i style="left:286.08px;top:95.36px;background:#f3f4f7"></i><i style="left:309.92px;top:95.36px;background:#f3f4f7"></i><i style="left:333.76px;top:95.36px;background:#f3f4f7"></i><i style="left:357.60px;top:95.36px;background:#f3f4f7"></i><i style="left:381.44px;top:95.36px;background:#f3f4f7"></i><i style="left:405.28px;top:95.36px;background:#dce8fd"></i><i style="left:429.12px;top:95.36px;background:#dce8fd"></i><i style="left:452.96px;top:95.36px;background:#f3f4f7"></i><i style="left:476.80px;top:95.36px;background:#f3f4f7"></i><i style="left:500.64px;top:95.36px;background:#f3f4f7"></i><i style="left:524.48px;top:95.36px;background:#f3f4f7"></i><i style="left:548.32px;top:95.36px;background:#f3f4f7"></i><i style="left:0.00px;top:119.20px;background:#f3f4f7"></i><i style="left:23.84px;top:119.20px;background:#f3f4f7"></i><i style="left:47.68px;top:119.20px;background:#f3f4f7"></i><i style="left:71.52px;top:119.20px;background:#f3f4f7"></i><i style="left:95.36px;top:119.20px;background:#f3f4f7"></i><i style="left:119.20px;top:119.20px;background:#f3f4f7"></i><i style="left:143.04px;top:119.20px;background:#f3f4f7"></i><i style="left:166.88px;top:119.20px;background:#f3f4f7"></i><i style="left:190.72px;top:119.20px;background:#f3f4f7"></i><i style="left:214.56px;top:119.20px;background:#f3f4f7"></i><i style="left:238.40px;top:119.20px;background:#dce8fd"></i><i style="left:262.24px;top:119.20px;background:#dce8fd"></i><i style="left:286.08px;top:119.20px;background:#f3f4f7"></i><i style="left:309.92px;top:119.20px;background:#f3f4f7"></i><i style="left:333.76px;top:119.20px;background:#f3f4f7"></i><i style="left:357.60px;top:119.20px;background:#dce8fd"></i><i style="left:381.44px;top:119.20px;background:#f3f4f7"></i><i style="left:405.28px;top:119.20px;background:#f3f4f7"></i><i style="left:429.12px;top:119.20px;background:#dce8fd"></i><i style="left:452.96px;top:119.20px;background:#f3f4f7"></i><i style="left:476.80px;top:119.20px;background:#f3f4f7"></i><i style="left:500.64px;top:119.20px;background:#f3f4f7"></i><i style="left:524.48px;top:119.20px;background:#f3f4f7"></i><i style="left:548.32px;top:119.20px;background:#f3f4f7"></i><i style="left:0.00px;top:143.04px;background:#f3f4f7"></i><i style="left:23.84px;top:143.04px;background:#f3f4f7"></i><i style="left:47.68px;top:143.04px;background:#f3f4f7"></i><i style="left:71.52px;top:143.04px;background:#f3f4f7"></i><i style="left:95.36px;top:143.04px;background:#f3f4f7"></i><i style="left:119.20px;top:143.04px;background:#f3f4f7"></i><i style="left:143.04px;top:143.04px;background:#dce8fd"></i><i style="left:166.88px;top:143.04px;background:#f3f4f7"></i><i style="left:190.72px;top:143.04px;background:#dce8fd"></i><i style="left:214.56px;top:143.04px;background:#f3f4f7"></i><i style="left:238.40px;top:143.04px;background:#f3f4f7"></i><i style="left:262.24px;top:143.04px;background:#f3f4f7"></i><i style="left:286.08px;top:143.04px;background:#dce8fd"></i><i style="left:309.92px;top:143.04px;background:#f3f4f7"></i><i style="left:333.76px;top:143.04px;background:#f3f4f7"></i><i style="left:357.60px;top:143.04px;background:#dce8fd"></i><i style="left:381.44px;top:143.04px;background:#dce8fd"></i><i style="left:405.28px;top:143.04px;background:#f3f4f7"></i><i style="left:429.12px;top:143.04px;background:#f3f4f7"></i><i style="left:452.96px;top:143.04px;background:#c0d3fc"></i><i style="left:476.80px;top:143.04px;background:#dce8fd"></i><i style="left:500.64px;top:143.04px;background:#dce8fd"></i><i style="left:524.48px;top:143.04px;background:#f3f4f7"></i><i style="left:548.32px;top:143.04px;background:#f3f4f7"></i></div>
  <div class="abs small" style="left:339.6px;top:717.6px">Менше</div>
  <i class="lg" style="left:380.25px;background:#f3f4f7"></i><i class="lg" style="left:397.31px;background:#dce8fd"></i><i class="lg" style="left:414.37px;background:#c0d3fc"></i><i class="lg" style="left:431.43px;background:#9ab3f9"></i><i class="lg" style="left:448.49px;background:#748ef6"></i><i class="lg" style="left:465.55px;background:#4560f2"></i>
  <div class="abs small" style="left:485.6px;top:717.6px">Більше</div>
</main>

<div id="fade"></div>
</body>
</html>
